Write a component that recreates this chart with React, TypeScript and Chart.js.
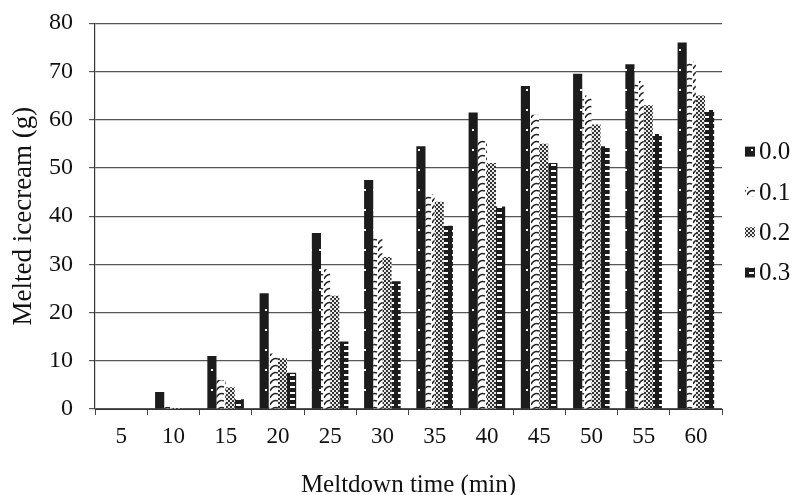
import React, { useEffect, useRef } from "react";
import { Chart, registerables } from "chart.js";

Chart.register(...registerables);

const categories = ["5", "10", "15", "20", "25", "30", "35", "40", "45", "50", "55", "60"];
const seriesLabels = ["0.0", "0.1", "0.2", "0.3"];
const values00 = [0, 3.5, 11, 24, 36.5, 47.5, 54.5, 61.5, 67, 69.5, 71.5, 76];
const values01 = [0, 0.5, 6, 11.5, 29, 35.5, 44.5, 56, 61, 65, 68, 72];
const values02 = [0, 0.2, 4.5, 10.5, 23.5, 31.5, 43, 51, 55, 59, 63, 65];
const values03 = [0, 0, 2, 7.5, 14, 26.5, 38, 42, 51, 54.5, 57, 62];
const yTicks = [0, 10, 20, 30, 40, 50, 60, 70, 80];

const FAMILY = "'Liberation Serif', 'DejaVu Serif', serif";

function makePattern(kind: number): CanvasPattern | string {
  const c = document.createElement("canvas");
  const ctx = c.getContext("2d");
  if (!ctx) return "#222";
  if (kind === 0) {
    c.width = 9; c.height = 20;
    ctx.fillStyle = "#1c1c1c"; ctx.fillRect(0, 0, 9, 20);
    ctx.fillStyle = "#ffffff"; ctx.fillRect(4, 9, 2, 2);
  } else if (kind === 1) {
    c.width = 9; c.height = 7;
    ctx.fillStyle = "#ffffff"; ctx.fillRect(0, 0, 9, 7);
    ctx.strokeStyle = "#222"; ctx.lineWidth = 1.6;
    ctx.beginPath();
    ctx.moveTo(0, 6); ctx.quadraticCurveTo(3, 0, 8, 2);
    ctx.stroke();
  } else if (kind === 2) {
    c.width = 4; c.height = 4;
    ctx.fillStyle = "#e8e8e8"; ctx.fillRect(0, 0, 4, 4);
    ctx.fillStyle = "#333";
    ctx.fillRect(0, 0, 2, 2); ctx.fillRect(2, 2, 2, 2);
  } else {
    c.width = 9; c.height = 6;
    ctx.fillStyle = "#1c1c1c"; ctx.fillRect(0, 0, 9, 6);
    ctx.fillStyle = "#ffffff"; ctx.fillRect(2, 2, 5, 2);
  }
  const p = ctx.createPattern(c, "repeat");
  return p || "#222";
}

export default function App() {
  const ref = useRef<HTMLCanvasElement | null>(null);
  useEffect(() => {
    if (!ref.current) return;
    const pats = [0, 1, 2, 3].map(makePattern);
    const all = [values00, values01, values02, values03];

    const sideLegend = {
      id: "sideLegend",
      afterDraw(chart: any) {
        const { ctx, chartArea } = chart;
        const midY = (chartArea.top + chartArea.bottom) / 2 - 4;
        const gap = 40.3;
        const bx = chartArea.right + 23;
        ctx.save();
        ctx.font = `25px ${FAMILY}`;
        ctx.textBaseline = "middle";
        ctx.textAlign = "left";
        chart.data.datasets.forEach((ds: any, i: number) => {
          const y = midY + (i - 1.5) * gap;
          ctx.fillStyle = ds.backgroundColor;
          ctx.fillRect(bx, y - 5, 10, 10);
          ctx.fillStyle = "#111";
          ctx.fillText(ds.label, bx + 14, y + 1);
        });
        ctx.restore();
      },
    };

    const chart = new Chart(ref.current, {
      type: "bar",
      data: {
        labels: categories,
        datasets: all.map((v, i) => ({
          label: seriesLabels[i],
          data: v,
          backgroundColor: pats[i] as any,
          borderWidth: 0,
          categoryPercentage: 0.7,
          barPercentage: 1.0,
        })),
      },
      plugins: [sideLegend],
      options: {
        animation: false,
        responsive: true,
        maintainAspectRatio: false,
        layout: { padding: { top: 16, right: 73, left: 0, bottom: 0 } },
        plugins: {
          legend: { display: false },
          tooltip: { enabled: false },
        },
        scales: {
          x: {
            offset: true,
            afterFit: (axis: any) => {
              axis.height = 86;
            },
            grid: { display: true, drawOnChartArea: false, offset: true, tickLength: 6, color: "#444" },
            border: { display: true, color: "#333", width: 1 },
            ticks: { font: { family: FAMILY, size: 23 }, color: "#111", padding: 8, maxRotation: 0 },
            title: {
              display: true,
              text: "Meltdown time (min)",
              font: { family: FAMILY, size: 25, lineHeight: 0.8 },
              color: "#111",
              padding: { top: 0, bottom: 0 },
            },
          },
          y: {
            min: 0,
            max: 80,
            afterBuildTicks: (axis: any) => {
              axis.ticks = yTicks.map((v) => ({ value: v }));
            },
            afterFit: (axis: any) => {
              axis.width = 95;
            },
            grid: { color: "#555", lineWidth: 1.2, tickLength: 6 },
            border: { display: true, color: "#333", width: 1.2 },
            ticks: { font: { family: FAMILY, size: 24, lineHeight: 0.6 }, color: "#111", padding: 16 },
            title: {
              display: true,
              text: "Melted icecream (g)",
              font: { family: FAMILY, size: 27, lineHeight: 1.0 },
              color: "#111",
              padding: { top: 10, bottom: 0 },
            },
          },
        },
      },
    });
    return () => chart.destroy();
  }, []);
  return (
    <div style={{ position: "fixed", left: 0, top: 0, width: 795, height: 495, background: "#fff" }}>
      <canvas ref={ref} />
    </div>
  );
}
